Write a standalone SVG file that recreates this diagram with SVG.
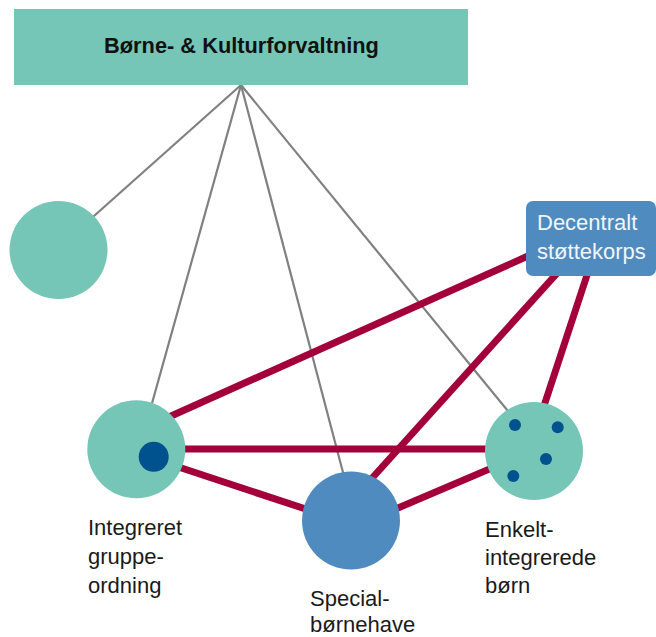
<svg xmlns="http://www.w3.org/2000/svg" width="656" height="637" viewBox="0 0 656 637">
<style>
.teal{fill:#76c6b8}
.blue{fill:#4f8bbf}
.dot{fill:#00528f}
.gray{stroke:#808080;stroke-width:2.2;fill:none}
.red{stroke:#a3003a;stroke-width:7;fill:none}
.lbl{font-family:"Liberation Sans",Arial,sans-serif;font-size:22px;fill:#1a1a1a}
.wlbl{font-family:"Liberation Sans",Arial,sans-serif;font-size:22px;fill:#f2f5f9}
.title{font-family:"Liberation Sans",Arial,sans-serif;font-size:21.8px;font-weight:bold;fill:#111}
</style>
<rect width="656" height="637" fill="#ffffff"/>
<g id="connectors">
<line class="gray" x1="241" y1="85" x2="85" y2="224"/>
<line class="gray" x1="241" y1="85" x2="149" y2="414"/>
<line class="gray" x1="241" y1="85" x2="345" y2="480"/>
<line class="gray" x1="241" y1="85" x2="512" y2="416"/>
<line class="red" x1="528" y1="256" x2="160" y2="421"/>
<line class="red" x1="560" y1="270" x2="355" y2="497"/>
<line class="red" x1="590" y1="266" x2="540" y2="418"/>
<line class="red" x1="136" y1="449" x2="534" y2="449"/>
<line class="red" x1="136" y1="453" x2="351" y2="524"/>
<line class="red" x1="351" y1="528" x2="534" y2="450"/>
</g>
<g id="forvaltning">
<rect class="teal" x="14" y="9" width="454" height="76"/>
<text class="title" x="241.5" y="52.5" text-anchor="middle">Børne- &amp; Kulturforvaltning</text>
</g>
<g id="leftcircle">
<circle class="teal" cx="58.5" cy="250" r="49"/>
</g>
<g id="decentralt">
<rect class="blue" x="526" y="201" width="130" height="75" rx="7"/>
<text class="wlbl" x="537" y="230">Decentralt</text>
<text class="wlbl" x="537" y="258.5">støttekorps</text>
</g>
<g id="integreret">
<circle class="teal" cx="136.3" cy="449.3" r="49"/>
<circle class="dot" cx="153.7" cy="456.8" r="15"/>
<text class="lbl" x="88" y="535">Integreret</text>
<text class="lbl" x="88" y="564">gruppe-</text>
<text class="lbl" x="88" y="593">ordning</text>
</g>
<g id="special">
<circle class="blue" cx="351" cy="520.5" r="49"/>
<text class="lbl" x="310" y="606">Special-</text>
<text class="lbl" x="310" y="632">børnehave</text>
</g>
<g id="enkelt">
<circle class="teal" cx="534" cy="451" r="49"/>
<circle class="dot" cx="515" cy="425" r="6"/>
<circle class="dot" cx="557.7" cy="427.3" r="6"/>
<circle class="dot" cx="546" cy="459" r="6"/>
<circle class="dot" cx="513.3" cy="476" r="6"/>
<text class="lbl" x="485" y="536.5">Enkelt-</text>
<text class="lbl" x="485" y="565">integrerede</text>
<text class="lbl" x="485" y="593">børn</text>
</g>
</svg>
